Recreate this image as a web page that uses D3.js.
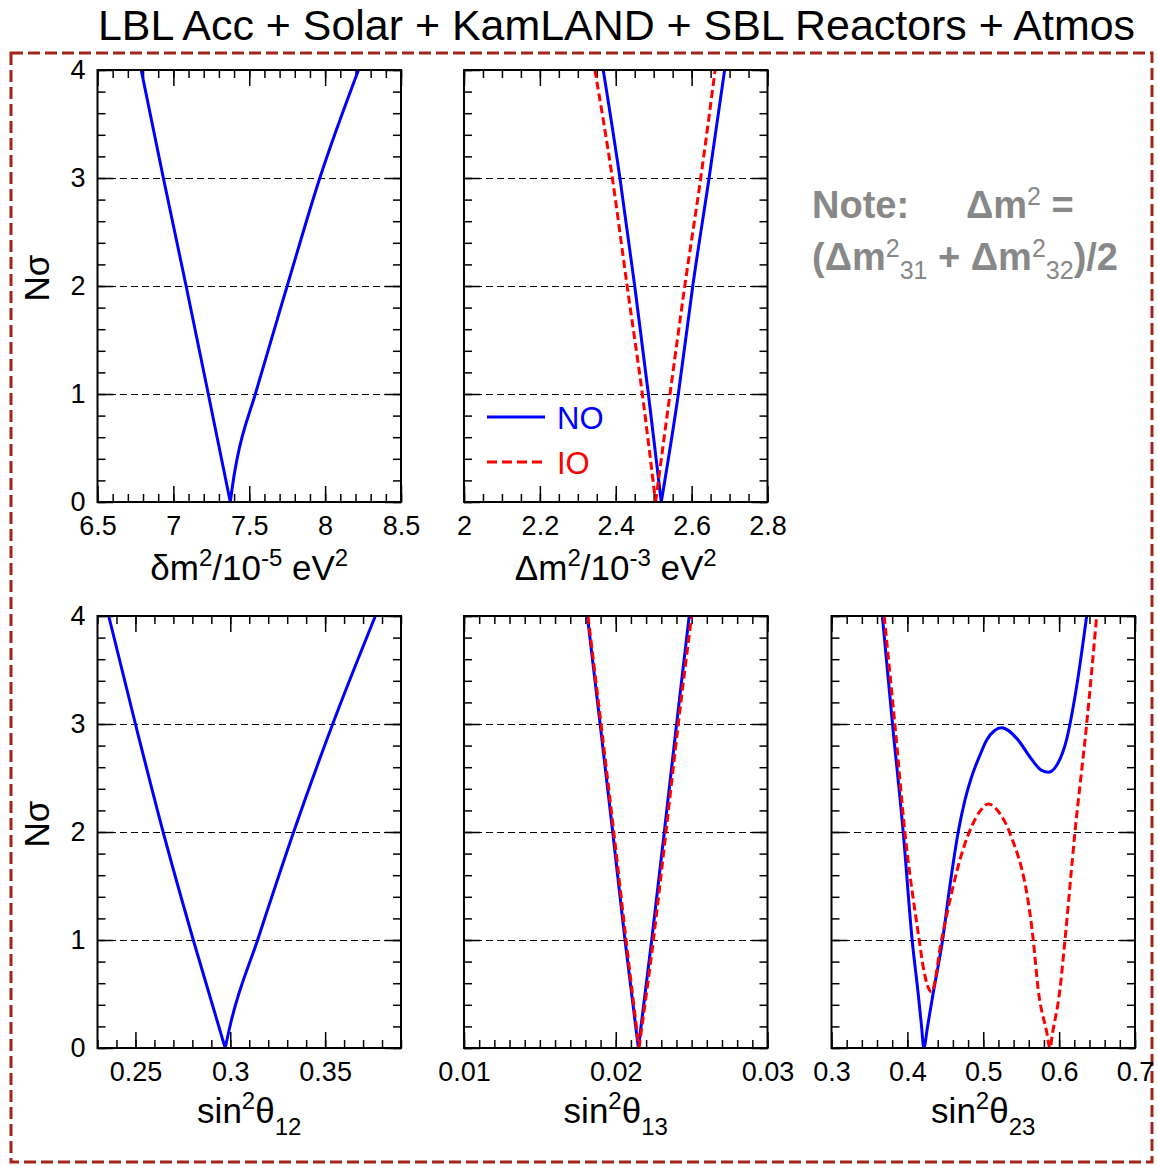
<!DOCTYPE html>
<html>
<head>
<meta charset="utf-8">
<script src="https://cdn.jsdelivr.net/npm/d3@7"></script>
<style>
  body { margin: 0; background: #fff; }
  svg { display: block; font-family: "Liberation Sans", Arial, sans-serif; }
  .axis path { display: none; }
  .axis line { stroke: #000; stroke-width: 1.5; }
</style>
</head>
<body>
<svg id="chart" width="1158" height="1166"></svg>
<script>
// ---- data ----
var nsigmaTicks = [0, 1, 2, 3, 4];

var dm2Ticks = [6.5, 7, 7.5, 8, 8.5];
var dm2NO = [[6.788,4],[6.934,3],[7.084,2],[7.23,1],[7.375,0],[7.395,0.2],[7.42,0.4],[7.54,1],[7.75,2],[7.965,3],[8.22,4]];

var Dm2Ticks = [2, 2.2, 2.4, 2.6, 2.8];
var Dm2NO = [[2.367,4],[2.411,3],[2.45,2],[2.486,1],[2.52,0],[2.565,1],[2.603,2],[2.646,3],[2.687,4]];
var Dm2IO = [[2.345,4],[2.391,3],[2.43,2],[2.47,1],[2.505,0],[2.543,1],[2.582,2],[2.624,3],[2.662,4]];

var s12Ticks = [0.25, 0.3, 0.35];
var s12NO = [[0.2359,4],[0.25,3],[0.2646,2],[0.2805,1],[0.2973,0],[0.3005,0.25],[0.3144,1],[0.3334,2],[0.354,3],[0.3765,4]];

var s13Ticks = [0.01, 0.02, 0.03];
var s13NO = [[0.01813,4],[0.01897,3],[0.0198,2],[0.02061,1],[0.02149,0],[0.02237,1],[0.0232,2],[0.02401,3],[0.02484,4]];
var s13IO = [[0.01817,4],[0.01903,3],[0.01987,2],[0.02068,1],[0.02153,0],[0.02248,1],[0.02331,2],[0.02412,3],[0.025,4]];

var s23Ticks = [0.3, 0.4, 0.5, 0.6, 0.7];
var s23NO = [[0.367,4],[0.3804,3],[0.3945,2],[0.4063,1],[0.4142,0.506],[0.4187,0.2],[0.4217,0],[0.4266,0.2],[0.434,0.506],[0.4464,1],[0.456,1.5],[0.467,2],[0.476,2.3],[0.4846,2.51],[0.495,2.7],[0.5044,2.85],[0.515,2.94],[0.5242,2.966],[0.545,2.86],[0.563,2.68],[0.577,2.57],[0.586,2.553],[0.597,2.62],[0.61,2.86],[0.622,3.3],[0.6363,4]];
var s23IO = [[0.3694,4],[0.3835,3],[0.3967,2],[0.4156,1],[0.4208,0.753],[0.4319,0.52],[0.445,1],[0.473,1.83],[0.4846,2.05],[0.4965,2.2],[0.5065,2.26],[0.522,2.17],[0.5351,1.99],[0.5659,1],[0.5725,0.537],[0.5836,0.15],[0.5879,0],[0.5916,0.15],[0.601,0.537],[0.6077,1],[0.6209,2],[0.6363,3],[0.6495,4]];

// ---- layout ----
var svg = d3.select('#chart');
var PW = 303.5, PH = 432;
var colX = [97.5, 464, 831.5];
var rowY = [70, 616];
var BLUE = '#0000ff', RED = '#ff0000';

// title + dashed border
svg.append('text')
    .attr('x', 616.5).attr('y', 40)
    .attr('text-anchor', 'middle')
    .attr('font-size', 42)
    .attr('textLength', 1037)
    .attr('lengthAdjust', 'spacingAndGlyphs')
    .text('LBL Acc + Solar + KamLAND + SBL Reactors + Atmos');

svg.append('rect')
    .attr('x', 11).attr('y', 53)
    .attr('width', 1141).attr('height', 1109)
    .attr('fill', 'none')
    .attr('stroke', '#a3241a')
    .attr('stroke-width', 3)
    .attr('stroke-dasharray', '12,5');

var panels = [
  { col: 0, row: 0, domain: [6.5, 8.5], majors: dm2Ticks, minorStep: 0.1, ylabels: true,
    xlabel: [['δm','n'],['2','sup'],['/10','n'],['-5','sup'],[' eV','n'],['2','sup']],
    series: [{ data: dm2NO, color: BLUE }] },
  { col: 1, row: 0, domain: [2, 2.8], majors: Dm2Ticks, minorStep: 0.05, ylabels: false,
    xlabel: [['Δm','n'],['2','sup'],['/10','n'],['-3','sup'],[' eV','n'],['2','sup']],
    series: [{ data: Dm2NO, color: BLUE }, { data: Dm2IO, color: RED, dash: '8,4' }] },
  { col: 0, row: 1, domain: [0.23, 0.39], majors: s12Ticks, minorStep: 0.01, ylabels: true,
    xlabel: [['sin','n'],['2','sup'],['θ','n'],['12','sub']],
    series: [{ data: s12NO, color: BLUE }] },
  { col: 1, row: 1, domain: [0.01, 0.03], majors: s13Ticks, minorStep: 0.001, ylabels: false,
    xlabel: [['sin','n'],['2','sup'],['θ','n'],['13','sub']],
    series: [{ data: s13NO, color: BLUE }, { data: s13IO, color: RED, dash: '8,4' }] },
  { col: 2, row: 1, domain: [0.3, 0.7], majors: s23Ticks, minorStep: 0.02, ylabels: false, smooth: true,
    xlabel: [['sin','n'],['2','sup'],['θ','n'],['23','sub']],
    series: [{ data: s23NO, color: BLUE }, { data: s23IO, color: RED, dash: '8,4' }] }
];

var y = d3.scaleLinear().domain([0, 4]).range([PH, 0]);
var yMinor = d3.range(0, 4.001, 0.2);

function styleAxis(g) {
  g.attr('class', 'axis')
   .attr('font-size', 27)
   .attr('font-family', '"Liberation Sans", Arial, sans-serif');
}

panels.forEach(function(p, i) {
  var g = svg.append('g').attr('transform', 'translate(' + colX[p.col] + ',' + rowY[p.row] + ')');
  var x = d3.scaleLinear().domain(p.domain).range([0, PW]);
  var minors = d3.range(p.domain[0], p.domain[1] + p.minorStep / 2, p.minorStep);

  // gridlines
  g.selectAll('.grid').data([1, 2, 3]).enter().append('line')
      .attr('x1', 0).attr('x2', PW)
      .attr('y1', function(d) { return y(d) + 0.5; })
      .attr('y2', function(d) { return y(d) + 0.5; })
      .attr('stroke', '#000').attr('stroke-width', 1.3)
      .attr('shape-rendering', 'crispEdges')
      .attr('stroke-dasharray', '7,4');

  // x axes (bottom with labels, top without)
  g.append('g').attr('transform', 'translate(0,' + PH + ')')
      .call(d3.axisBottom(x).tickValues(minors).tickSizeInner(-8).tickSizeOuter(0).tickFormat(''))
      .call(styleAxis);
  g.append('g').attr('transform', 'translate(0,' + PH + ')')
      .call(d3.axisBottom(x).tickValues(p.majors).tickSizeInner(-16).tickSizeOuter(0).tickPadding(14)
            .tickFormat(function(d) { return String(d); }))
      .call(styleAxis);
  g.append('g')
      .call(d3.axisTop(x).tickValues(minors).tickSizeInner(-8).tickSizeOuter(0).tickFormat(''))
      .call(styleAxis);
  g.append('g')
      .call(d3.axisTop(x).tickValues(p.majors).tickSizeInner(-16).tickSizeOuter(0).tickFormat(''))
      .call(styleAxis);

  // y axes
  g.append('g')
      .call(d3.axisLeft(y).tickValues(yMinor).tickSizeInner(-8).tickSizeOuter(0).tickFormat(''))
      .call(styleAxis);
  g.append('g')
      .call(d3.axisLeft(y).tickValues(nsigmaTicks).tickSizeInner(-16).tickSizeOuter(0).tickPadding(12)
            .tickFormat(p.ylabels ? function(d) { return String(d); } : ''))
      .call(styleAxis);
  g.append('g').attr('transform', 'translate(' + PW + ',0)')
      .call(d3.axisRight(y).tickValues(yMinor).tickSizeInner(-8).tickSizeOuter(0).tickFormat(''))
      .call(styleAxis);
  g.append('g').attr('transform', 'translate(' + PW + ',0)')
      .call(d3.axisRight(y).tickValues(nsigmaTicks).tickSizeInner(-16).tickSizeOuter(0).tickFormat(''))
      .call(styleAxis);

  // curves
  var clipId = 'clip' + i;
  g.append('clipPath').attr('id', clipId)
    .append('rect').attr('width', PW).attr('height', PH);
  var line = d3.line()
      .x(function(d) { return x(d[0]); })
      .y(function(d) { return y(d[1]); })
      .curve(d3.curveMonotoneX);
  p.series.forEach(function(s) {
    var pieces;
    if (p.smooth) {
      pieces = [s.data];
    } else {
      // V-shaped profile: keep the minimum sharp, smooth each branch
      var k = d3.minIndex(s.data, function(d) { return d[1]; });
      pieces = [s.data.slice(0, k + 1), s.data.slice(k)];
    }
    pieces.forEach(function(pc) {
      g.append('path')
          .attr('clip-path', 'url(#' + clipId + ')')
          .attr('d', line(pc))
          .attr('fill', 'none')
          .attr('stroke', s.color)
          .attr('stroke-width', 3)
          .attr('stroke-linejoin', 'round')
          .attr('stroke-dasharray', s.dash || null);
    });
  });

  // frame
  g.append('rect').attr('width', PW).attr('height', PH)
      .attr('fill', 'none').attr('stroke', '#000').attr('stroke-width', 2);

  // x label
  var t = g.append('text')
      .attr('x', PW / 2).attr('y', PH + (p.row === 0 ? 78 : 75))
      .attr('text-anchor', 'middle')
      .attr('font-size', 35);
  var cur = 0;
  p.xlabel.forEach(function(part) {
    var off = part[1] === 'sup' ? -14 : part[1] === 'sub' ? 12 : 0;
    t.append('tspan')
        .attr('dy', off - cur)
        .attr('font-size', part[1] === 'n' ? 35 : 24)
        .text(part[0]);
    cur = off;
  });

  // y label
  if (p.ylabels) {
    svg.append('text')
        .attr('transform', 'translate(49,' + (rowY[p.row] + PH / 2 - 8) + ') rotate(-90)')
        .attr('text-anchor', 'middle')
        .attr('font-size', 35)
        .text('Nσ');
  }
});

// legend (top middle panel)
var legend = svg.append('g');
legend.append('line').attr('x1', 487).attr('x2', 545).attr('y1', 417).attr('y2', 417)
    .attr('stroke', BLUE).attr('stroke-width', 3);
legend.append('text').attr('x', 557).attr('y', 429).attr('font-size', 31).attr('fill', BLUE).text('NO');
legend.append('line').attr('x1', 487).attr('x2', 545).attr('y1', 462).attr('y2', 462)
    .attr('stroke', RED).attr('stroke-width', 3).attr('stroke-dasharray', '10,5');
legend.append('text').attr('x', 557).attr('y', 474).attr('font-size', 31).attr('fill', RED).text('IO');

// note
var GRAY = '#888';
var n1 = svg.append('text').attr('x', 812).attr('y', 218).attr('fill', GRAY).attr('font-size', 38);
n1.append('tspan').attr('font-weight', 'bold').text('Note:');
n1.append('tspan').attr('x', 966).attr('font-weight', 'bold').text('Δm');
n1.append('tspan').attr('font-size', 25).attr('dy', -13).text('2');
n1.append('tspan').attr('font-weight', 'bold').attr('dy', 13).text(' =');

var n2 = svg.append('text').attr('x', 812).attr('y', 270).attr('fill', GRAY).attr('font-size', 38);
n2.append('tspan').attr('font-weight', 'bold').text('(Δm');
n2.append('tspan').attr('font-size', 25).attr('dy', -13).text('2');
n2.append('tspan').attr('font-size', 25).attr('dy', 22).text('31');
n2.append('tspan').attr('font-weight', 'bold').attr('dy', -9).text(' + Δm');
n2.append('tspan').attr('font-size', 25).attr('dy', -13).text('2');
n2.append('tspan').attr('font-size', 25).attr('dy', 22).text('32');
n2.append('tspan').attr('font-weight', 'bold').attr('dy', -9).text(')/2');
</script>
</body>
</html>
